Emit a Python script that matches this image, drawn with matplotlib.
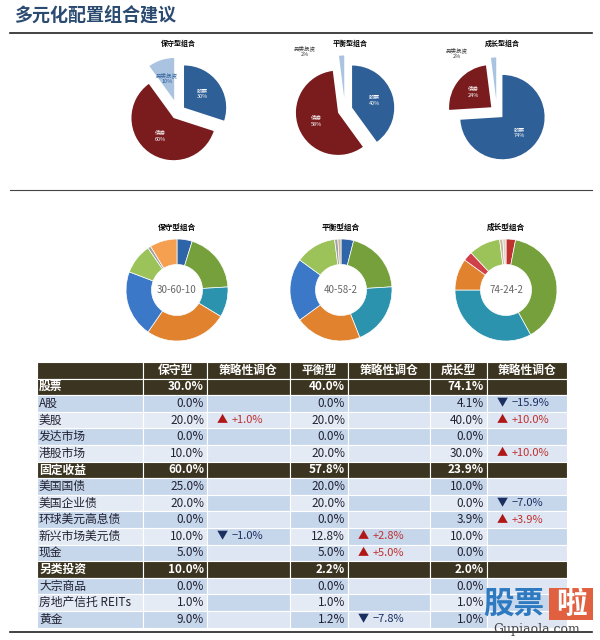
import matplotlib
matplotlib.use("Agg")
import matplotlib.pyplot as plt
from matplotlib.patches import Rectangle

plt.rcParams["font.family"] = ["Noto Sans CJK SC", "DejaVu Sans"]

title = "多元化配置组合建议"
pie_titles = ["保守型组合", "平衡型组合", "成长型组合"]
pie_labels = ["股票", "债券", "另类投资"]
pie_values = [[30, 60, 10], [40, 58, 2], [74, 24, 2]]
pie_colors = ["#2F5F97", "#7A1C1E", "#A9C3E0"]

donut_centers_text = ["30-60-10", "40-58-2", "74-24-2"]
donut_values = [
    [5, 20, 10, 27, 22, 10, 1, 9],
    [4, 20, 20, 21, 20, 13, 1, 1],
    [3, 39, 33, 10, 3, 10, 1, 1],
]
donut_colors = [
    ["#2E64A8", "#76A03C", "#2C93AE", "#E0822E", "#3C78C8", "#9CC35A", "#A0A0A0", "#F5A050"],
    ["#2E64A8", "#76A03C", "#2C93AE", "#E0822E", "#3C78C8", "#9CC35A", "#A0A0A0", "#C8B8A0"],
    ["#C0302E", "#76A03C", "#2C93AE", "#E0822E", "#D04048", "#9CC35A", "#C8B8A0", "#E0D0C0"],
]

columns = ["", "保守型", "策略性调仓", "平衡型", "策略性调仓", "成长型", "策略性调仓"]
row_labels = ["股票", "A股", "美股", "发达市场", "港股市场", "固定收益", "美国国债", "美国企业债",
              "环球美元高息债", "新兴市场美元债", "现金", "另类投资", "大宗商品", "房地产信托 REITs", "黄金"]
header_rows = [0, 5, 11]
conservative = ["30.0%", "0.0%", "20.0%", "0.0%", "10.0%", "60.0%", "25.0%", "20.0%", "0.0%", "10.0%", "5.0%", "10.0%", "0.0%", "1.0%", "9.0%"]
cons_adj = ["", "", "+1.0%", "", "", "", "", "", "", "-1.0%", "", "", "", "", ""]
balanced = ["40.0%", "0.0%", "20.0%", "0.0%", "20.0%", "57.8%", "20.0%", "20.0%", "0.0%", "12.8%", "5.0%", "2.2%", "0.0%", "1.0%", "1.2%"]
bal_adj = ["", "", "", "", "", "", "", "", "", "+2.8%", "+5.0%", "", "", "", "-7.8%"]
growth = ["74.1%", "4.1%", "40.0%", "0.0%", "30.0%", "23.9%", "10.0%", "0.0%", "3.9%", "10.0%", "0.0%", "2.0%", "0.0%", "1.0%", "1.0%"]
gro_adj = ["", "-15.9%", "+10.0%", "", "+10.0%", "", "", "-7.0%", "+3.9%", "", "", "", "", "", ""]

W, H = 600, 640
fig = plt.figure(figsize=(6, 6.4), dpi=100)
bg = fig.add_axes([0, 0, 1, 1])
bg.set_xlim(0, W); bg.set_ylim(H, 0); bg.axis("off")

bg.text(14, 16, title, fontsize=13, fontweight="bold", color="#2A4A70", va="center")
bg.plot([10, 592], [33, 33], color="#222", lw=1.2)
bg.plot([10, 592], [190, 190], color="#444", lw=0.8)
bg.plot([10, 592], [632, 632], color="#222", lw=1.2)

def fig_ax(cx, cy, r):
    return fig.add_axes([(cx - r) / W, 1 - (cy + r) / H, 2 * r / W, 2 * r / H])

# exploded pies
pie_pos = [(178, 112), (345, 110), (497, 112)]
for i, (cx, cy) in enumerate(pie_pos):
    ax = fig_ax(cx, cy, 62)
    wedges, texts = ax.pie(pie_values[i], colors=pie_colors, startangle=90, counterclock=False,
                           explode=[0.12, 0.12, 0.2], radius=0.68,
                           labels=[f"{l}\n{v}%" for l, v in zip(pie_labels, pie_values[i])],
                           labeldistance=0.55, textprops=dict(fontsize=4, color="white", ha="center"))
    if pie_values[i][2] < 5:
        texts[2].set_position((-0.65, 0.95)); texts[2].set_color("#333")
    else:
        texts[2].set_color("#2F5F97")
    ax.set_xlim(-1, 1); ax.set_ylim(-1, 1); ax.set_aspect("equal")
    bg.text(cx + (0 if i == 0 else 5), 46, pie_titles[i], fontsize=5, ha="center", fontweight="bold")

# donuts
donut_pos = [(177, 290), (341, 290), (506, 290)]
for i, (cx, cy) in enumerate(donut_pos):
    ax = fig_ax(cx, cy, 51)
    ax.pie(donut_values[i], colors=donut_colors[i], startangle=90, counterclock=False,
           wedgeprops=dict(width=0.5, edgecolor="white", linewidth=0.5), radius=1)
    ax.set_xlim(-1, 1); ax.set_ylim(-1, 1)
    ax.text(0, 0, donut_centers_text[i], ha="center", va="center", fontsize=7, color="#666")
    ax.set_aspect("equal")
    bg.text(cx, 230, pie_titles[i], fontsize=5.5, ha="center", fontweight="bold")

# table
xs = [37, 143, 207, 290, 348, 430, 487, 567]
y0, rh = 362, 16.6
dark = "#3B3420"
def cell(c, r, color):
    bg.add_patch(Rectangle((xs[c], y0 + r * rh), xs[c + 1] - xs[c], rh, facecolor=color,
                           edgecolor="white", lw=0.8))
for c in range(7):
    cell(c, 0, dark)
    if c > 0:
        bg.text((xs[c] + xs[c + 1]) / 2, y0 + rh / 2, columns[c], color="white", fontsize=8.5,
                fontweight="bold", ha="center", va="center")
val_cols = [conservative, cons_adj, balanced, bal_adj, growth, gro_adj]
for i, lab in enumerate(row_labels):
    r = i + 1
    yc = y0 + r * rh + rh / 2
    hdr = i in header_rows
    for c in range(7):
        if hdr:
            col = dark
        else:
            col = "#C6D6EB" if (i % 2 == 1) ^ (i > 5 and i < 11) ^ (i > 11) else "#E4EBF5"
            if c in (2, 4, 6):
                col = "#C6D6EB" if i % 2 == 1 else "#DDE6F2"
        cell(c, r, col)
    tc = "white" if hdr else "#223"
    bg.text(xs[0] + 2, yc, lab, fontsize=8.5, va="center", color=tc, fontweight="bold" if hdr else "normal")
    for k, c in enumerate([1, 3, 5]):
        bg.text(xs[c + 1] - 3, yc, val_cols[2 * k][i], fontsize=8.5, va="center", ha="right",
                color=tc, fontweight="bold" if hdr else "normal")
        adj = val_cols[2 * k + 1][i]
        if adj:
            up = adj.startswith("+")
            bg.text(xs[c + 1] + 10, yc, "▲" if up else "▼", fontsize=8, va="center",
                    color="#B01818" if up else "#1A2E60")
            bg.text(xs[c + 1] + 25, yc, adj.replace("-", "−"), fontsize=8, va="center",
                    color="#C03030" if up else "#1A2E60")

# watermark
bg.text(483, 604, "股票", fontsize=22, color="#2E7AC0", fontweight="bold", va="center")
bg.add_patch(Rectangle((549, 588), 44, 32, facecolor="#E06040", edgecolor="none"))
bg.text(571, 604, "啦", fontsize=22, color="white", fontweight="bold", va="center", ha="center")
bg.text(537, 629, "Gupiaola.com", fontsize=9, color="#444", va="center", ha="center", family="DejaVu Serif")

fig.savefig("out.png", dpi=100, facecolor="white")
